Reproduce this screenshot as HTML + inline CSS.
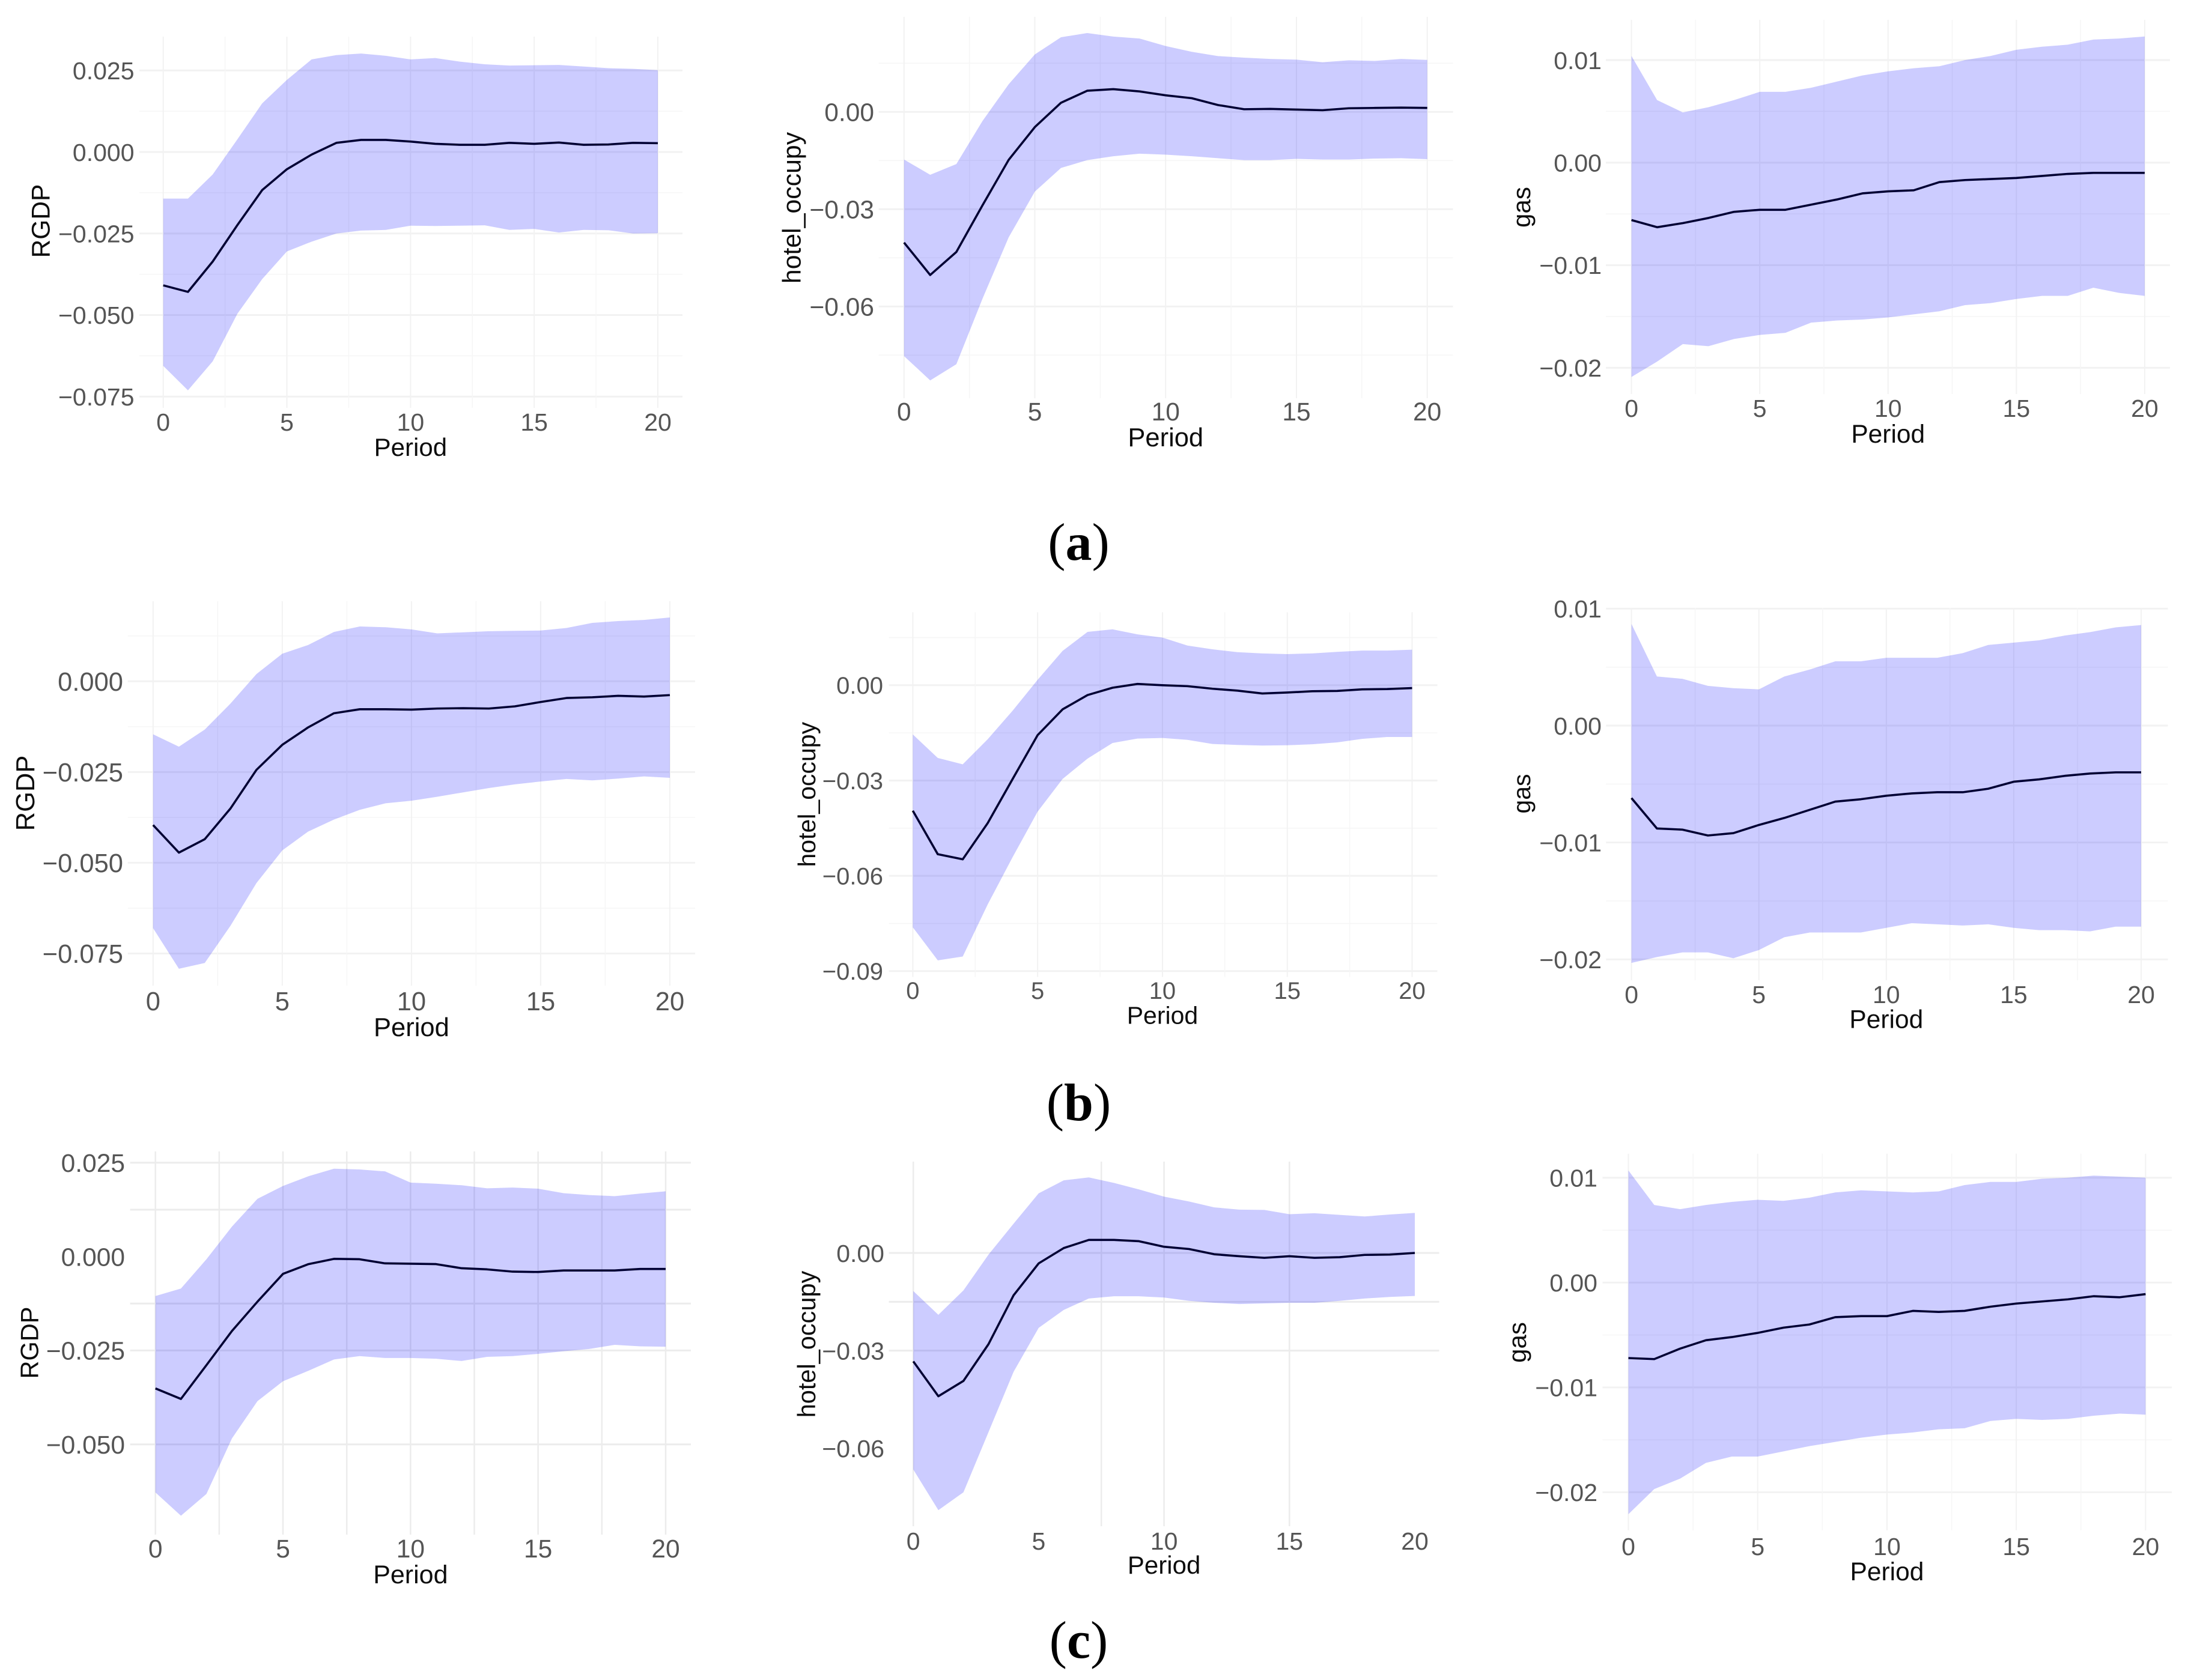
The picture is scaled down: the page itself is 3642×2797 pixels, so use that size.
<!DOCTYPE html>
<html lang="en">
<head>
<meta charset="utf-8">
<title>Impulse response panels</title>
<style>
html,body{margin:0;padding:0;background:#fff;}
svg{display:block;}
text{font-family:"Liberation Sans",Arial,sans-serif;}
.caption{font-family:"Liberation Serif","Times New Roman",serif;font-size:88px;fill:#000;text-anchor:middle;}
.caption .b{font-weight:bold;}
</style>
</head>
<body>
<svg id="figure" xmlns="http://www.w3.org/2000/svg" width="3642" height="2797" viewBox="0 0 3642 2797">
<rect x="0" y="0" width="3642" height="2797" fill="#ffffff"/>
<text class="caption" x="1795.5" y="932">(<tspan class="b">a</tspan>)</text>
<text class="caption" x="1795.5" y="1865">(<tspan class="b">b</tspan>)</text>
<text class="caption" x="1795.5" y="2760">(<tspan class="b">c</tspan>)</text>
</svg>
<script>
const periods = [0,1,2,3,4,5,6,7,8,9,10,11,12,13,14,15,16,17,18,19,20];
const xTickValues = [0,5,10,15,20];

/* Row (a) */
const rgdpATicks = [0.025,0,-0.025,-0.05,-0.075];
const rgdpAUpper = [-.0143,-.0143,-.0069,.0039,.0149,.0221,.0284,.0297,.0302,.0295,.0284,.0288,.0277,.0269,.0265,.0266,.0267,.0262,.0257,.0255,.0251];
const rgdpALower = [-.0656,-.0731,-.0642,-.0496,-.0390,-.0305,-.0275,-.0250,-.0241,-.0239,-.0226,-.0227,-.0226,-.0225,-.0239,-.0236,-.0247,-.0239,-.0240,-.0250,-.0249];
const rgdpALine  = [-.0409,-.0429,-.0336,-.0224,-.0117,-.0053,-.0008,.0028,.0037,.0037,.0032,.0025,.0022,.0022,.0028,.0025,.0029,.0022,.0023,.0028,.0027];

const hotelATicks = [0,-0.03,-0.06];
const hotelAUpper = [-.0147,-.0194,-.0161,-.0028,.0085,.0177,.0230,.0243,.0232,.0226,.0203,.0185,.0172,.0167,.0163,.0161,.0153,.0159,.0157,.0163,.0160];
const hotelALower = [-.0753,-.0828,-.0778,-.0576,-.0387,-.0246,-.0173,-.0149,-.0137,-.0129,-.0132,-.0137,-.0143,-.0149,-.0149,-.0145,-.0147,-.0147,-.0144,-.0143,-.0146];
const hotelALine  = [-.0403,-.0503,-.0432,-.0288,-.0148,-.0047,.0028,.0065,.0070,.0063,.0051,.0042,.0021,.0008,.0009,.0007,.0005,.0011,.0012,.0013,.0012];

const gasATicks = [0.01,0,-0.01,-0.02];
const gasAUpper = [.0104,.0061,.0049,.0054,.0061,.0069,.0069,.0073,.0079,.0085,.0089,.0092,.0094,.0100,.0104,.0110,.0113,.0115,.0120,.0121,.0123];
const gasALower = [-.0209,-.0194,-.0177,-.0179,-.0172,-.0168,-.0166,-.0156,-.0154,-.0153,-.0151,-.0148,-.0145,-.0139,-.0137,-.0133,-.0130,-.0130,-.0122,-.0127,-.0130];
const gasALine  = [-.0056,-.0063,-.0059,-.0054,-.0048,-.0046,-.0046,-.0041,-.0036,-.0030,-.0028,-.0027,-.0019,-.0017,-.0016,-.0015,-.0013,-.0011,-.0010,-.0010,-.0010];

/* Row (b) */
const rgdpBTicks = [0,-0.025,-0.05,-0.075];
const rgdpBUpper = [-.0146,-.0180,-.0133,-.0061,.0020,.0076,.0100,.0136,.0151,.0149,.0143,.0132,.0135,.0138,.0139,.0140,.0147,.0161,.0166,.0169,.0176];
const rgdpBLower = [-.0680,-.0792,-.0776,-.0673,-.0556,-.0466,-.0414,-.0381,-.0354,-.0336,-.0329,-.0318,-.0306,-.0294,-.0284,-.0276,-.0269,-.0273,-.0268,-.0262,-.0266];
const rgdpBLine  = [-.0396,-.0472,-.0435,-.0350,-.0244,-.0175,-.0127,-.0088,-.0077,-.0077,-.0078,-.0075,-.0074,-.0075,-.0069,-.0057,-.0046,-.0044,-.0040,-.0042,-.0038];

const hotelBTicks = [0,-0.03,-0.06,-0.09];
const hotelBUpper = [-.0155,-.0229,-.0249,-.0170,-.0080,.0017,.0108,.0168,.0176,.0160,.0150,.0125,.0113,.0104,.0100,.0098,.0100,.0105,.0109,.0109,.0112];
const hotelBLower = [-.0762,-.0866,-.0854,-.0690,-.0541,-.0398,-.0295,-.0231,-.0182,-.0168,-.0166,-.0172,-.0185,-.0188,-.0190,-.0189,-.0186,-.0180,-.0169,-.0163,-.0163];
const hotelBLine  = [-.0395,-.0532,-.0548,-.0434,-.0295,-.0157,-.0076,-.0031,-.0008,.0004,0,-.0003,-.0011,-.0017,-.0026,-.0023,-.0019,-.0018,-.0013,-.0012,-.0009];

const gasBTicks = [0.01,0,-0.01,-0.02];
const gasBUpper = [.0087,.0042,.0040,.0034,.0032,.0031,.0042,.0048,.0055,.0055,.0058,.0058,.0058,.0062,.0069,.0071,.0073,.0077,.0080,.0084,.0086];
const gasBLower = [-.0203,-.0198,-.0194,-.0194,-.0199,-.0192,-.0181,-.0177,-.0177,-.0177,-.0173,-.0169,-.0170,-.0171,-.0170,-.0173,-.0175,-.0175,-.0176,-.0172,-.0172];
const gasBLine  = [-.0062,-.0088,-.0089,-.0094,-.0092,-.0085,-.0079,-.0072,-.0065,-.0063,-.0060,-.0058,-.0057,-.0057,-.0054,-.0048,-.0046,-.0043,-.0041,-.0040,-.0040];

/* Row (c) */
const rgdpCTicks = [0.025,0,-0.025,-0.05];
const rgdpCUpper = [-.0105,-.0085,-.0007,.0080,.0154,.0188,.0214,.0234,.0232,.0227,.0197,.0194,.0190,.0182,.0184,.0181,.0169,.0164,.0161,.0168,.0174];
const rgdpCLower = [-.0628,-.0690,-.0632,-.0484,-.0385,-.0332,-.0304,-.0274,-.0265,-.0270,-.0270,-.0272,-.0278,-.0267,-.0265,-.0259,-.0252,-.0246,-.0235,-.0239,-.0240];
const rgdpCLine  = [-.0351,-.0379,-.0289,-.0198,-.0120,-.0046,-.0020,-.0006,-.0007,-.0018,-.0019,-.0020,-.0031,-.0034,-.0040,-.0041,-.0037,-.0037,-.0037,-.0033,-.0033];
const rgdpCGridH = [0.025,0.0125,-0.0125,-0.025,-0.05];
const rgdpCGridV = [0,2.5,5,7.5,10,12.5,15,17.5,20];

const hotelCTicks = [0,-0.03,-0.06];
const hotelCUpper = [-.0117,-.0190,-.0115,-.0005,.0090,.0183,.0223,.0232,.0215,.0195,.0173,.0158,.0140,.0133,.0132,.0119,.0122,.0117,.0112,.0118,.0123];
const hotelCLower = [-.0665,-.0790,-.0735,-.0550,-.0365,-.0230,-.0175,-.0140,-.0133,-.0133,-.0137,-.0147,-.0153,-.0157,-.0155,-.0153,-.0153,-.0147,-.0140,-.0135,-.0132];
const hotelCLine  = [-.0333,-.0440,-.0393,-.0280,-.0130,-.0032,.0015,.0040,.0040,.0036,.0019,.0012,-.0004,-.0010,-.0015,-.0010,-.0015,-.0013,-.0006,-.0005,0];
const hotelCGridH = [0,-0.015,-0.03];
const hotelCGridV = [0,7.5,10,15];

const gasCTicks = [0.01,0,-0.01,-0.02];
const gasCUpper = [.0107,.0074,.0070,.0074,.0077,.0079,.0078,.0081,.0086,.0088,.0087,.0086,.0087,.0093,.0096,.0096,.0099,.0100,.0102,.0101,.0100];
const gasCLower = [-.0221,-.0197,-.0187,-.0172,-.0166,-.0166,-.0161,-.0156,-.0152,-.0148,-.0145,-.0143,-.0140,-.0139,-.0132,-.0130,-.0131,-.0130,-.0127,-.0125,-.0126];
const gasCLine  = [-.0072,-.0073,-.0063,-.0055,-.0052,-.0048,-.0043,-.0040,-.0033,-.0032,-.0032,-.0027,-.0028,-.0027,-.0023,-.0020,-.0018,-.0016,-.0013,-.0014,-.0011];

const SVG_NS = 'http://www.w3.org/2000/svg';
const figure = document.getElementById('figure');

function make(tag, props, parent) {
  const node = document.createElementNS(SVG_NS, tag);
  for (const key in props) node.setAttribute(key, props[key]);
  parent.appendChild(node);
  return node;
}
function formatTick(v, decimals) {
  return v.toFixed(decimals).replace('-', '\u2212');
}

function drawPanel(id, title, data, frame) {
  const xScale = v => frame.x0 + (v - periods[0]) / (periods[periods.length - 1] - periods[0]) * (frame.x20 - frame.x0);
  const tickFirst = data.ticks[0];
  const tickLast = data.ticks[data.ticks.length - 1];
  const yScale = v => frame.yFirst + (v - tickFirst) / (tickLast - tickFirst) * (frame.yLast - frame.yFirst);
  const step = Math.abs(data.ticks[0] - data.ticks[1]);

  const group = make('g', {}, figure);
  
  

  const hMajor = data.ticks;
  const hMinor = [];
  for (let v = tickFirst + step / 2; yScale(v) > frame.top; v += step) hMinor.push(v);
  for (let v = tickFirst - step / 2; yScale(v) < frame.bottom; v -= step) hMinor.push(v);
  const vMajor = xTickValues;
  const vMinor = [2.5, 7.5, 12.5, 17.5];
  const majorColor = frame.majorColor || '#f2f2f2';
  const minorColor = frame.minorColor || '#f6f6f6';

  function hGrid(v, color, width) {
    const line = make('line', {x1: frame.left, x2: frame.right, y1: yScale(v), y2: yScale(v), stroke: color, 'stroke-width': width}, group);
    
    
  }
  function vGrid(v, color, width) {
    const line = make('line', {x1: xScale(v), x2: xScale(v), y1: frame.top, y2: frame.bottom, stroke: color, 'stroke-width': width}, group);
    
    
  }
  if (data.gridH) {
    data.gridH.forEach(v => hGrid(v, frame.strongColor, 3));
  } else {
    hMinor.forEach(v => hGrid(v, minorColor, 1.5));
    hMajor.forEach(v => hGrid(v, majorColor, 3));
  }
  if (data.gridV) {
    data.gridV.forEach(v => vGrid(v, frame.strongColor, 2.5));
  } else {
    vMinor.forEach(v => vGrid(v, minorColor, 1.5));
    vMajor.forEach(v => vGrid(v, majorColor, 2));
  }

  const linePoints = periods.map((p, i) => xScale(p) + ',' + yScale(data.line[i])).join(' ');
  const response = make('polyline', {points: linePoints, fill: 'none', stroke: '#000000', 'stroke-width': 3.6, 'stroke-linejoin': 'round'}, group);
  
  

  const upperPts = periods.map((p, i) => xScale(p) + ',' + yScale(data.upper[i]));
  const lowerPts = periods.map((p, i) => xScale(p) + ',' + yScale(data.lower[i])).reverse();
  const band = make('polygon', {points: upperPts.concat(lowerPts).join(' '), fill: '#0000ff', 'fill-opacity': 0.2}, group);
  
  

  data.ticks.forEach(v => {
    const label = make('text', {x: frame.tickRight, y: yScale(v) + frame.tickSize * 0.36, 'text-anchor': 'end', 'font-size': frame.tickSize, fill: '#555555'}, group);
    label.textContent = formatTick(v, data.decimals);
    
    
  });
  xTickValues.forEach(v => {
    const label = make('text', {x: xScale(v), y: frame.xTickY, 'text-anchor': 'middle', 'font-size': frame.tickSize, fill: '#555555'}, group);
    label.textContent = String(v);
    
    
  });

  const xTitle = make('text', {x: xScale(10), y: frame.xTitleY, 'text-anchor': 'middle', 'font-size': frame.titleSize, fill: '#0d0d0d'}, group);
  xTitle.textContent = 'Period';
  
  

  const yTitle = make('text', {x: 0, y: 0, 'text-anchor': 'middle', 'font-size': frame.yTitleSize, fill: '#0d0d0d', transform: 'translate(' + frame.yTitleX + ',' + frame.yTitleY + ') rotate(-90)'}, group);
  yTitle.textContent = title;
  
  
}

drawPanel('a-rgdp', 'RGDP',
  {ticks: rgdpATicks, decimals: 3, upper: rgdpAUpper, lower: rgdpALower, line: rgdpALine},
  {x0: 271.7, x20: 1095, left: 232, right: 1136, top: 61, bottom: 679, yFirst: 117.3, yLast: 660.2, tickRight: 223.5, tickSize: 41, xTickY: 717, xTitleY: 759, titleSize: 42, yTitleX: 82.6, yTitleY: 368, yTitleSize: 42.5});
drawPanel('a-hotel-occupy', 'hotel_occupy',
  {ticks: hotelATicks, decimals: 2, upper: hotelAUpper, lower: hotelALower, line: hotelALine},
  {x0: 1504.8, x20: 2375.7, left: 1462.7, right: 2418.6, top: 28, bottom: 663, yFirst: 186.2, yLast: 510.2, tickRight: 1455, tickSize: 42.5, xTickY: 700, xTitleY: 743, titleSize: 43.5, yTitleX: 1332.6, yTitleY: 346, yTitleSize: 42.8});
drawPanel('a-gas', 'gas',
  {ticks: gasATicks, decimals: 2, upper: gasAUpper, lower: gasALower, line: gasALine},
  {x0: 2715.6, x20: 3569.9, left: 2673, right: 3612, top: 33, bottom: 656, yFirst: 100, yLast: 612.2, tickRight: 2666, tickSize: 41, xTickY: 694, xTitleY: 737, titleSize: 42.5, yTitleX: 2547, yTitleY: 345, yTitleSize: 42});

drawPanel('b-rgdp', 'RGDP',
  {ticks: rgdpBTicks, decimals: 3, upper: rgdpBUpper, lower: rgdpBLower, line: rgdpBLine},
  {x0: 254.8, x20: 1115, left: 212.8, right: 1157, top: 1001, bottom: 1641, yFirst: 1134.3, yLast: 1587.5, tickRight: 205, tickSize: 43.5, xTickY: 1682, xTitleY: 1725, titleSize: 43.5, yTitleX: 57, yTitleY: 1320.5, yTitleSize: 43.5});
drawPanel('b-hotel-occupy', 'hotel_occupy',
  {ticks: hotelBTicks, decimals: 2, upper: hotelBUpper, lower: hotelBLower, line: hotelBLine},
  {x0: 1519.4, x20: 2350.5, left: 1479.6, right: 2392.6, top: 1019.4, bottom: 1626.5, yFirst: 1140.8, yLast: 1616.8, tickRight: 1470, tickSize: 40, xTickY: 1663, xTitleY: 1704.6, titleSize: 41, yTitleX: 1357, yTitleY: 1322.7, yTitleSize: 41});
drawPanel('b-gas', 'gas',
  {ticks: gasBTicks, decimals: 2, upper: gasBUpper, lower: gasBLower, line: gasBLine},
  {x0: 2715.6, x20: 3564, left: 2673.3, right: 3608.5, top: 1012, bottom: 1632, yFirst: 1013.4, yLast: 1597.3, tickRight: 2666, tickSize: 41, xTickY: 1670, xTitleY: 1711.6, titleSize: 42.5, yTitleX: 2547, yTitleY: 1321.5, yTitleSize: 41});

drawPanel('c-rgdp', 'RGDP',
  {ticks: rgdpCTicks, decimals: 3, upper: rgdpCUpper, lower: rgdpCLower, line: rgdpCLine, gridH: rgdpCGridH, gridV: rgdpCGridV},
  {x0: 258.7, x20: 1108, left: 216.6, right: 1150, top: 1917, bottom: 2555, yFirst: 1935.8, yLast: 2404.7, tickRight: 208, tickSize: 42.5, xTickY: 2593, xTitleY: 2636, titleSize: 43, yTitleX: 63.5, yTitleY: 2235.5, yTitleSize: 41.5, strongColor: '#ececec'});
drawPanel('c-hotel-occupy', 'hotel_occupy',
  {ticks: hotelCTicks, decimals: 2, upper: hotelCUpper, lower: hotelCLower, line: hotelCLine, gridH: hotelCGridH, gridV: hotelCGridV},
  {x0: 1520.2, x20: 2355, left: 1479.6, right: 2395.6, top: 1934, bottom: 2541, yFirst: 2086, yLast: 2411.3, tickRight: 1472, tickSize: 41, xTickY: 2580, xTitleY: 2620, titleSize: 42, yTitleX: 1357, yTitleY: 2238, yTitleSize: 41.5, strongColor: '#ececec'});
drawPanel('c-gas', 'gas',
  {ticks: gasCTicks, decimals: 2, upper: gasCUpper, lower: gasCLower, line: gasCLine},
  {x0: 2710.5, x20: 3571.4, left: 2667.5, right: 3615, top: 1920.7, bottom: 2547.8, yFirst: 1960.8, yLast: 2484.4, tickRight: 2659, tickSize: 41, xTickY: 2589, xTitleY: 2631, titleSize: 42.5, yTitleX: 2540, yTitleY: 2235, yTitleSize: 42});
</script>
</body>
</html>
